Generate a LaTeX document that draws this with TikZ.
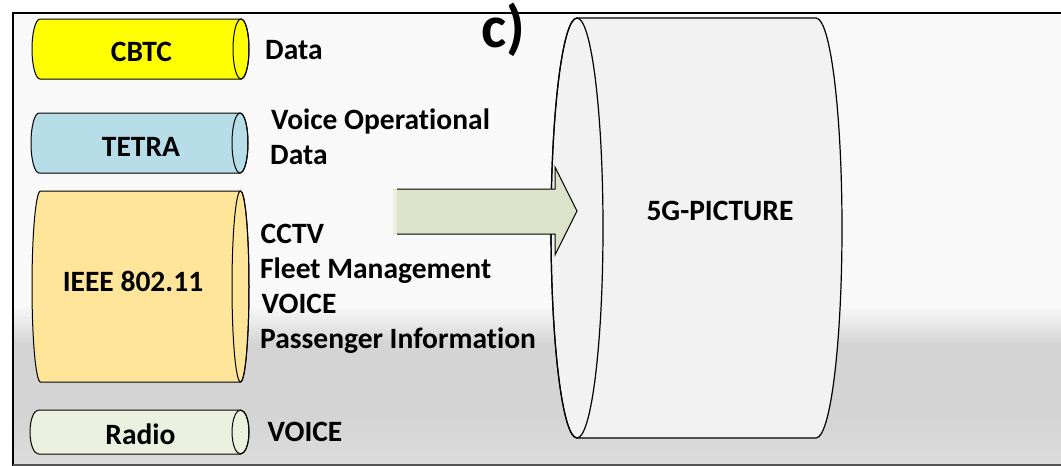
\documentclass[tikz,border=0pt]{standalone}
\usepackage{fontspec}
\setmainfont{Carlito}[Ligatures={NoCommon}]
\definecolor{bgtop}{HTML}{F9F9F9}
\definecolor{bgmid}{HTML}{D4D4D4}
\definecolor{bgbot}{HTML}{DCDCDC}
\definecolor{cbtcfill}{HTML}{FFFF00}
\definecolor{tetrafill}{HTML}{B7DDE8}
\definecolor{ieeefill}{HTML}{FEE599}
\definecolor{radiofill}{HTML}{EBF1DE}
\definecolor{bigfill}{HTML}{F2F2F2}
\definecolor{arrowfill}{HTML}{DDE2CB}
\definecolor{arrowedge}{HTML}{EAEDDF}
\definecolor{framegray}{HTML}{555555}
\tikzset{
  cylline/.style={draw=black, line width=1pt},
  lbl/.style={font=\bfseries\fontsize{29.5}{35}\selectfont, inner sep=0pt, anchor=base},
  side/.style={font=\bfseries\fontsize{29.5}{35}\selectfont, inner sep=0pt, anchor=base west},
}
% #1 left edge x, #2 right ellipse centre x, #3 top y, #4 bottom y, #5 x radius, #6 fill
\newcommand\hcyl[6]{%
  \pgfmathsetmacro\cylry{(#4-#3)/2}%
  \pgfmathsetmacro\cylcy{(#4+#3)/2}%
  \pgfmathsetmacro\cylxl{#1+#5}%
  \filldraw[cylline, fill=#6] (#2,#3) -- (\cylxl,#3)
    arc[start angle=270, end angle=90, x radius=#5, y radius=\cylry]
    -- (#2,#4)
    arc[start angle=90, end angle=-90, x radius=#5, y radius=\cylry] -- cycle;
  \draw[cylline] (#2,\cylcy) ellipse[x radius=#5, y radius=\cylry];
}
\begin{document}
\begin{tikzpicture}[x=1pt,y=-1pt]
\useasboundingbox (0,0) rectangle (1061,466);
\fill[white] (0,0) rectangle (1061,466);
% background panel
\fill[bgtop] (13,13) rectangle (1061,307);
\shade[top color=bgtop, bottom color=bgmid] (13,306.5) rectangle (1061,343.5);
\fill[bgmid] (13,343) rectangle (1061,415);
\shade[top color=bgmid, bottom color=bgbot] (13,414.5) rectangle (1061,465);
% frame
\draw[black, line width=2pt] (1061,13) -- (13,13) -- (13,466);
\draw[framegray, line width=1.5pt] (13,465) -- (1061,465);
% big 5G cylinder
\filldraw[cylline, line width=1.2pt, fill=bigfill] (577,18) -- (816,18)
  arc[start angle=270, end angle=450, x radius=26, y radius=210]
  -- (577,438)
  arc[start angle=90, end angle=270, x radius=26, y radius=210] -- cycle;
\draw[cylline, line width=1.2pt] (577,228) ellipse[x radius=26, y radius=210];
% block arrow
\fill[arrowfill] (393,189) -- (555,189) -- (555,167) -- (577,211) -- (555,255) -- (555,234) -- (393,234) -- cycle;
\fill[arrowedge] (393,190) rectangle (397,233);
\draw[cylline] (397,189) -- (555,189) -- (555,167) -- (577,211) -- (555,255) -- (555,234) -- (397,234);
% small cylinders
\hcyl{32}{241}{19}{79}{8}{cbtcfill}
\hcyl{31}{240}{113}{173}{8}{tetrafill}
\hcyl{32}{240.5}{191}{382}{8.5}{ieeefill}
\hcyl{30}{240.5}{410}{454}{8.5}{radiofill}
% cylinder labels
\node[lbl] (cbtc) at (141.5,61.5) {CBTC};
\node[lbl] (tetra) at (141,156) {TETRA};
\node[lbl] (ieee) at (133,291) {IEEE 802.11};
\node[lbl] (radio) at (140.5,444) {Radio};
\node[lbl] (fiveg) at (720,220.5) {5G-PICTURE};
% side texts
\node[side] (cbtcdata) at (265,59) {Data};
\node[side] (voiceop) at (271,129.5) {Voice Operational};
\node[side] (tetradata) at (270,164.5) {Data};
\node[side] (cctv) at (260.5,243) {CCTV};
\node[side] (fleet) at (260,278) {Fleet Management};
\node[side] (voiceb) at (261.5,313) {VOICE};
\node[side] (pass) at (260,348) {Passenger Information};
\node[side] (radiovoice) at (267.5,441) {VOICE};
% panel label
\node[inner sep=0pt, anchor=base, font=\bfseries\fontsize{60}{64}\selectfont] (clabel) at (503,47) {c)};
\end{tikzpicture}
\end{document}
